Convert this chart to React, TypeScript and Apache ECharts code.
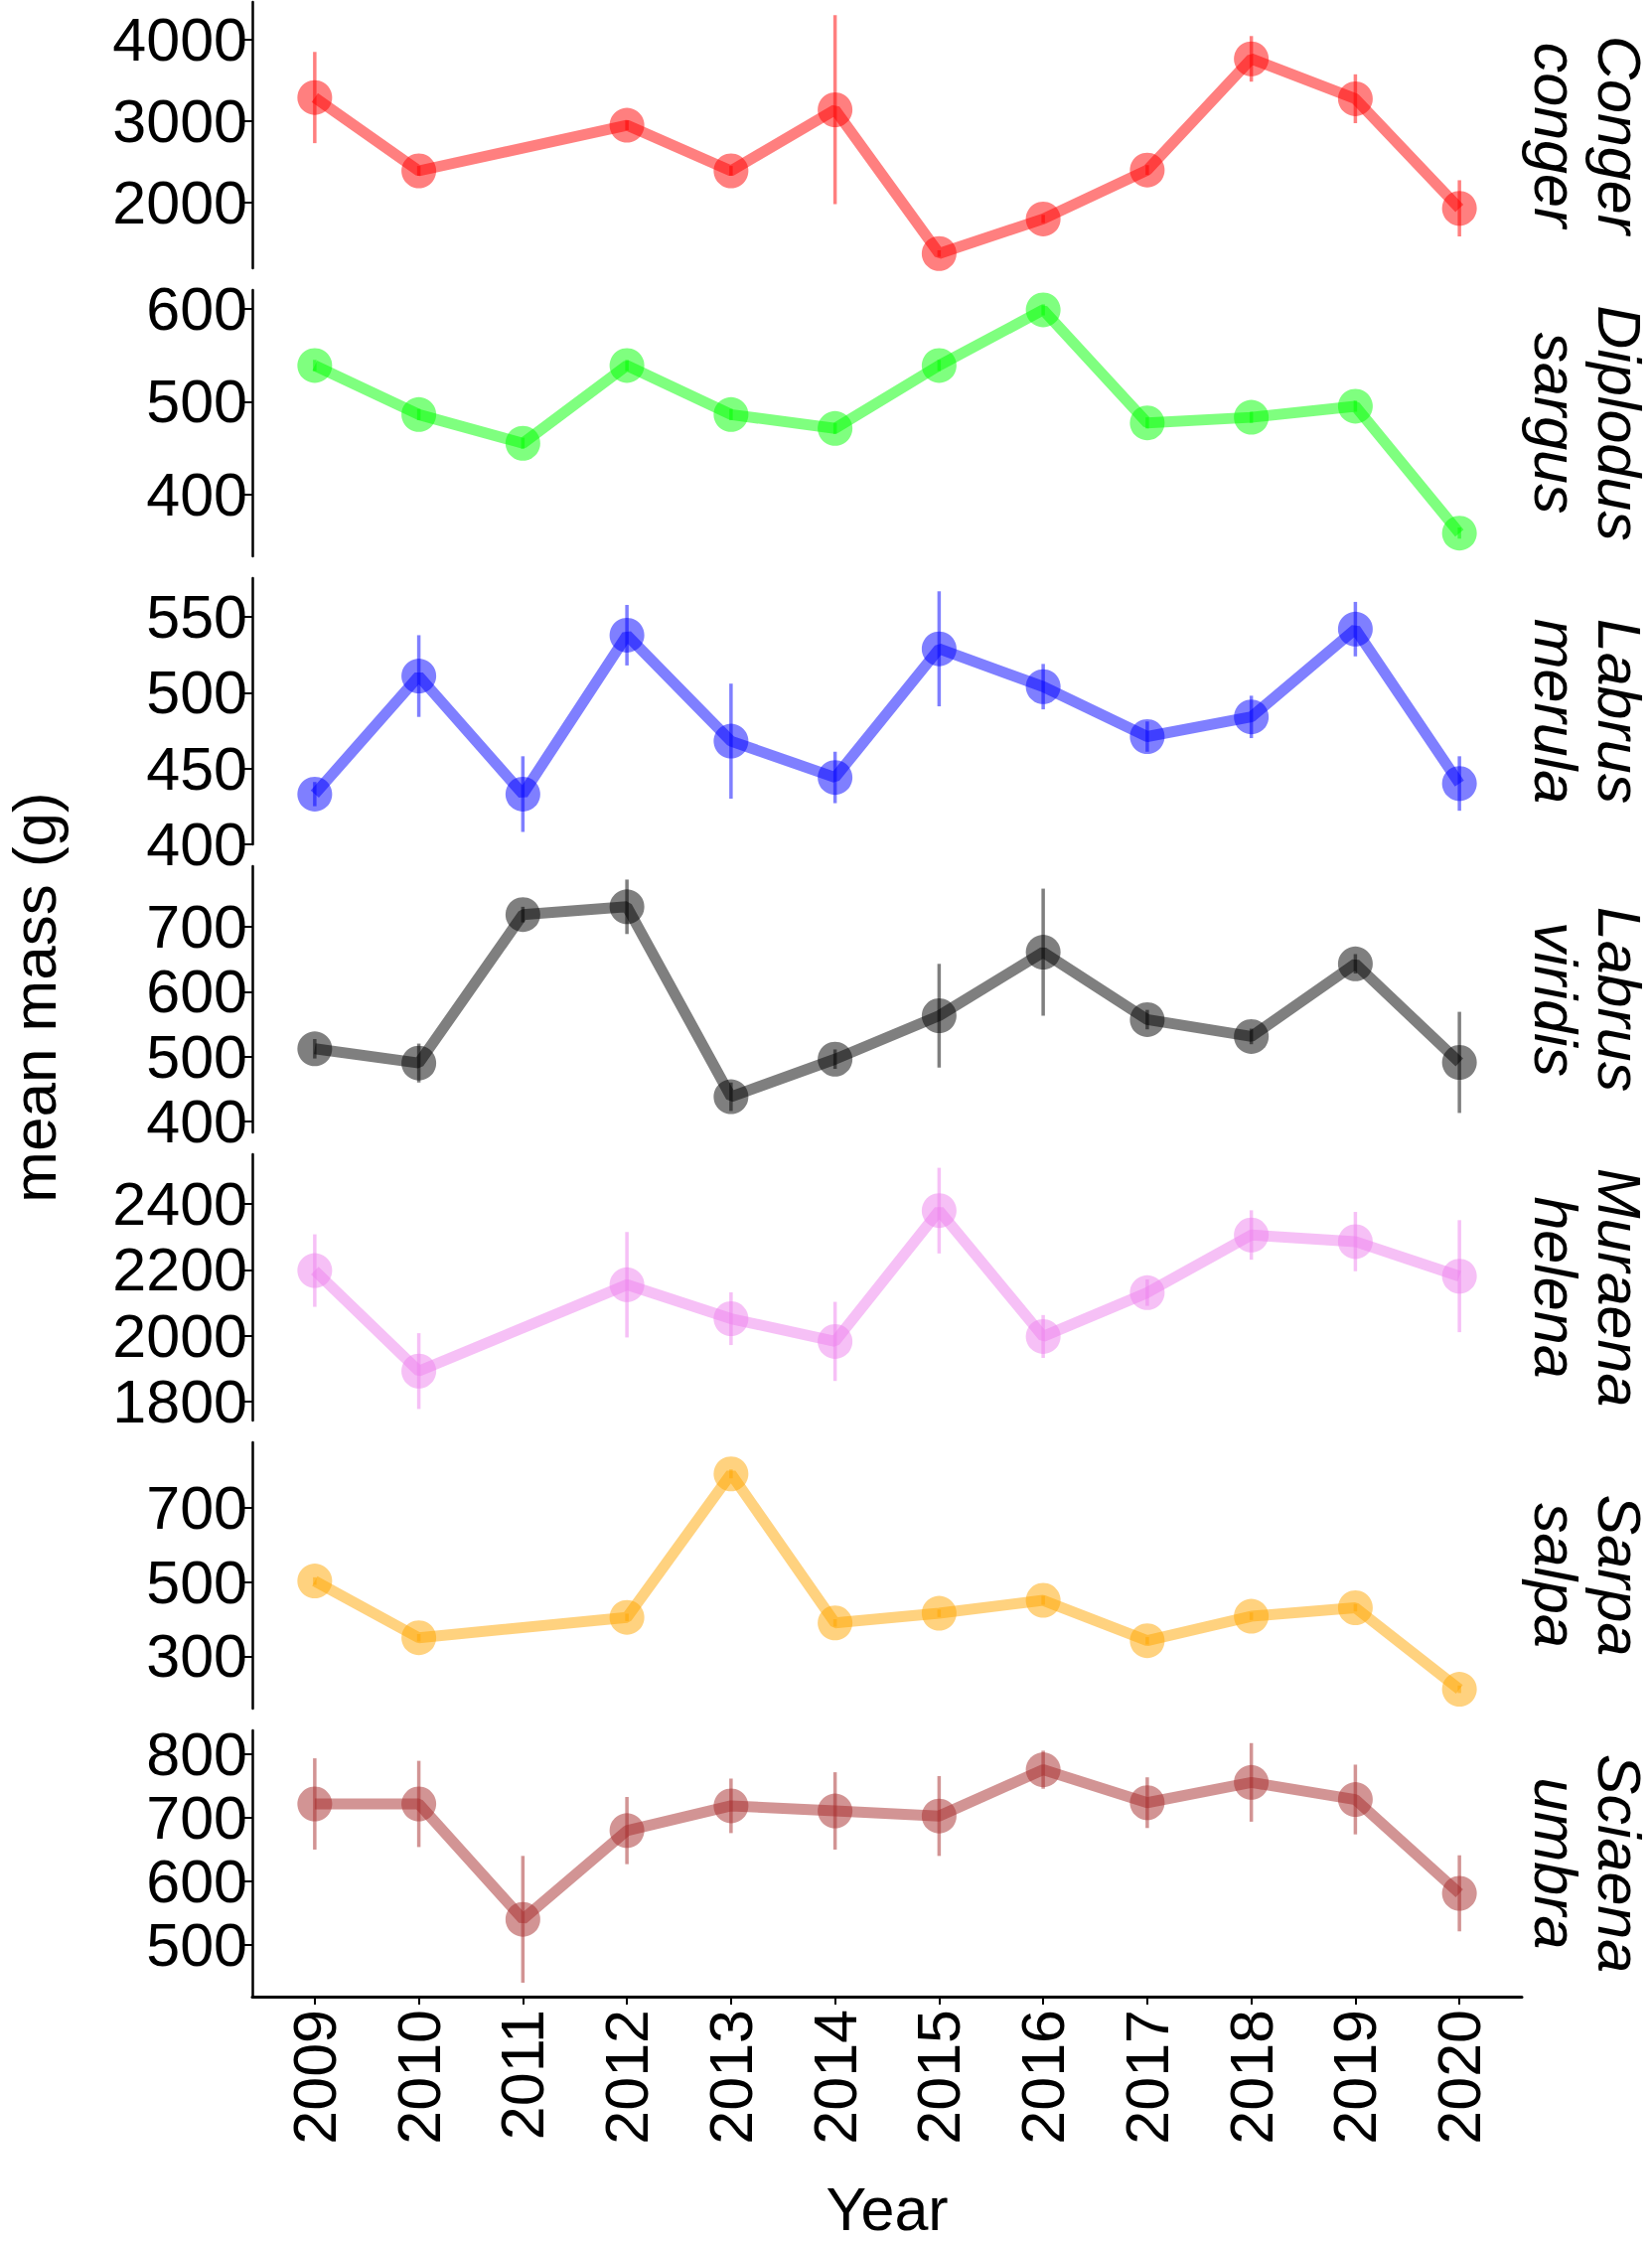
import React, { useEffect, useRef } from "react";
import * as echarts from "echarts";

// ---------- data ----------
const years = [2009, 2010, 2011, 2012, 2013, 2014, 2015, 2016, 2017, 2018, 2019, 2020];

const congerConger = [3290, 2390, null, 2950, 2390, 3140, 1375, 1800, 2400, 3765, 3275, 1930];
const congerCongerErr = [560, 60, null, 60, 60, 1160, 40, 50, 60, 280, 300, 345];

const diplodusSargus = [539, 486, 455, 539, 486, 471, 539, 599, 477, 483, 495, 358];
const diplodusSargusErr = [6, 6, 6, 6, 6, 6, 6, 6, 6, 6, 6, 6];

const labrusMerula = [433, 511, 433, 538, 468, 444, 529, 504, 471, 484, 542, 440];
const labrusMerulaErr = [8, 27, 25, 20, 38, 17, 38, 15, 10, 14, 18, 18];

const labrusViridis = [512, 490, 719, 731, 438, 496, 563, 661, 557, 531, 643, 491];
const labrusViridisErr = [15, 30, 12, 42, 22, 15, 80, 98, 15, 12, 15, 78];

const muraenaHelena = [2198, 1893, null, 2155, 2052, 1983, 2380, 1998, 2131, 2306, 2286, 2181];
const muraenaHelenaErr = [110, 115, null, 160, 80, 120, 130, 65, 40, 75, 90, 170];

const sarpaSalpa = [503, 350, null, 405, 792, 390, 416, 451, 342, 408, 431, 211];
const sarpaSalpaErr = [10, 10, null, 10, 12, 10, 10, 12, 10, 10, 10, 10];

const sciaenaUmbra = [722, 722, 540, 680, 719, 711, 703, 776, 724, 756, 729, 581];
const sciaenaUmbraErr = [72, 68, 100, 53, 43, 61, 63, 30, 40, 62, 55, 60];

const congerTicks = [2000, 3000, 4000];
const diplodusTicks = [400, 500, 600];
const merulaTicks = [400, 450, 500, 550];
const viridisTicks = [400, 500, 600, 700];
const muraenaTicks = [1800, 2000, 2200, 2400];
const sarpaTicks = [300, 500, 700];
const sciaenaTicks = [500, 600, 700, 800];

const genus = ["Conger", "Diplodus", "Labrus", "Labrus", "Muraena", "Sarpa", "Sciaena"];
const epithet = ["conger", "sargus", "merula", "viridis", "helena", "salpa", "umbra"];
const colors = ["#FF0000", "#00FF00", "#0000FF", "#000000", "#EE82EE", "#FFA500", "#A52A2A"];
const values = [congerConger, diplodusSargus, labrusMerula, labrusViridis, muraenaHelena, sarpaSalpa, sciaenaUmbra];
const errors = [congerCongerErr, diplodusSargusErr, labrusMerulaErr, labrusViridisErr, muraenaHelenaErr, sarpaSalpaErr, sciaenaUmbraErr];
const ticks = [congerTicks, diplodusTicks, merulaTicks, viridisTicks, muraenaTicks, sarpaTicks, sciaenaTicks];
const yMins = [1195, 333, 399.8, 383, 1743, 159, 418];
const yMaxs = [4463, 620.4, 575.7, 793.6, 2551, 877, 838];

const FONT = "'Liberation Sans', Arial, sans-serif";
const FS = 61;

export default function App() {
  const ref = useRef<HTMLDivElement>(null);
  useEffect(() => {
    document.body.style.margin = "0";
    if (!ref.current) return;
    const chart = echarts.init(ref.current, null, { renderer: "svg" });

    const gridLeft = 254;
    const gridWidth = 1278;
    const panelTop = (i: number) => 2 + 290 * i;
    const panelH = 268;

    const grids: any[] = [];
    const xAxes: any[] = [];
    const yAxes: any[] = [];
    const series: any[] = [];
    const graphics: any[] = [];

    const stripText = (text: string, x: number, y: number) => ({
      type: "text",
      x,
      y,
      rotation: -Math.PI / 2,
      style: {
        text,
        x: 0,
        y: 0,
        align: "center",
        verticalAlign: "middle",
        textAlign: "center",
        textVerticalAlign: "middle",
        fontSize: FS,
        fontStyle: "italic",
        fontFamily: FONT,
        fill: "#000",
      },
    });

    for (let i = 0; i < 7; i++) {
      const last = i === 6;
      grids.push({ left: gridLeft, top: panelTop(i), width: gridWidth, height: panelH, containLabel: false });
      xAxes.push({
        type: "value",
        gridIndex: i,
        min: 2008.4,
        max: 2020.6,
        show: last,
        splitLine: { show: false },
        axisLine: { show: last, onZero: false, lineStyle: { color: "#000", width: 3 } },
        axisTick: { show: last, customValues: years, length: 8, lineStyle: { color: "#000", width: 2 } },
        axisLabel: {
          show: last,
          customValues: years,
          rotate: 90,
          margin: 13,
          fontSize: FS,
          color: "#000",
          fontFamily: FONT,
          formatter: (v: number) => String(v),
        },
        name: last ? "Year" : "",
        nameLocation: "middle",
        nameGap: 183,
        nameTextStyle: { fontSize: 61, color: "#000", fontFamily: FONT },
      });
      yAxes.push({
        type: "value",
        gridIndex: i,
        min: yMins[i],
        max: yMaxs[i],
        splitLine: { show: false },
        axisLine: { show: true, onZero: false, lineStyle: { color: "#000", width: 2.5 } },
        axisTick: { show: true, customValues: ticks[i], length: 8, lineStyle: { color: "#000", width: 2 } },
        axisLabel: {
          customValues: ticks[i],
          margin: 5,
          fontSize: FS,
          color: "#000",
          fontFamily: FONT,
          formatter: (v: number) => String(v),
        },
      });

      const vals = values[i];
      const errs = errors[i];
      const lineData: any[] = [];
      const errData: any[] = [];
      years.forEach((y, k) => {
        const v = vals[k];
        if (v === null || v === undefined) return;
        lineData.push([y, v]);
        const e = errs[k] || 0;
        errData.push([y, v - e, v + e]);
      });
      const c = colors[i];
      series.push({
        type: "line",
        xAxisIndex: i,
        yAxisIndex: i,
        data: lineData,
        symbol: "circle",
        symbolSize: 35,
        lineStyle: { color: c, width: 11, opacity: 0.5 },
        itemStyle: { color: c, opacity: 0.5 },
        emphasis: { disabled: true },
        z: 2,
      });
      series.push({
        type: "custom",
        xAxisIndex: i,
        yAxisIndex: i,
        data: errData,
        encode: { x: 0, y: [1, 2] },
        z: 3,
        renderItem: (params: any, api: any) => {
          const x = api.value(0);
          const p1 = api.coord([x, api.value(1)]);
          const p2 = api.coord([x, api.value(2)]);
          return {
            type: "line",
            shape: { x1: p1[0], y1: p1[1], x2: p2[0], y2: p2[1] },
            style: { stroke: c, lineWidth: 3.5, opacity: 0.5 },
          };
        },
      });

      const cy = panelTop(i) + panelH / 2;
      graphics.push(stripText(genus[i], 1630, cy));
      graphics.push(stripText(epithet[i], 1566, cy));
    }

    graphics.push({
      type: "text",
      x: 34,
      y: 1004,
      rotation: Math.PI / 2,
      style: {
        text: "mean mass (g)",
        x: 0,
        y: 0,
        align: "center",
        verticalAlign: "middle",
        textAlign: "center",
        textVerticalAlign: "middle",
        fontSize: 62,
        fontFamily: FONT,
        fill: "#000",
      },
    });

    chart.setOption({
      animation: false,
      backgroundColor: "#fff",
      grid: grids,
      xAxis: xAxes,
      yAxis: yAxes,
      series,
      graphic: graphics,
    });
    return () => chart.dispose();
  }, []);
  return <div ref={ref} style={{ width: 1663, height: 2256 }} />;
}
